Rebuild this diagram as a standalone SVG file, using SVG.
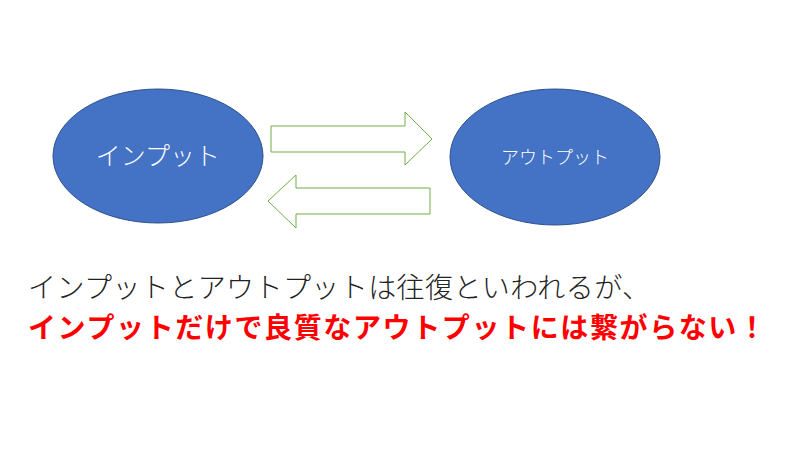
<svg xmlns="http://www.w3.org/2000/svg" width="800" height="450" viewBox="0 0 800 450">
<style>
.n{fill:#4472C4;stroke:#2F528F;stroke-width:1}
.a{fill:#fff;stroke:#70AD47;stroke-width:1}
text{font-family:"Noto Sans CJK JP","Noto Sans",sans-serif}
</style>
<rect width="800" height="450" fill="#fff"/>
<g id="input"><ellipse class="n" cx="158" cy="156" rx="105" ry="67"/>
<text x="158" y="165" font-size="25" fill="#fff" text-anchor="middle" font-weight="300">インプット</text></g>
<g id="output"><ellipse class="n" cx="555" cy="157" rx="105" ry="68"/>
<text x="555" y="164" font-size="18" fill="#fff" text-anchor="middle" font-weight="300">アウトプット</text></g>
<g id="connectors">
<polygon class="a" points="271,126 405,126 405,112 432,139 405,165 405,152 271,152"/>
<polygon class="a" points="430,188 296,188 296,175 268,201 296,228 296,214 430,214"/>
</g>
<text x="28" y="298" font-size="28" fill="#222" font-weight="300" textLength="622" lengthAdjust="spacing">インプットとアウトプットは往復といわれるが、</text>
<text x="28" y="338" font-size="28" font-weight="bold" fill="#FF0000" textLength="738" lengthAdjust="spacing">インプットだけで良質なアウトプットには繋がらない！</text>
</svg>
